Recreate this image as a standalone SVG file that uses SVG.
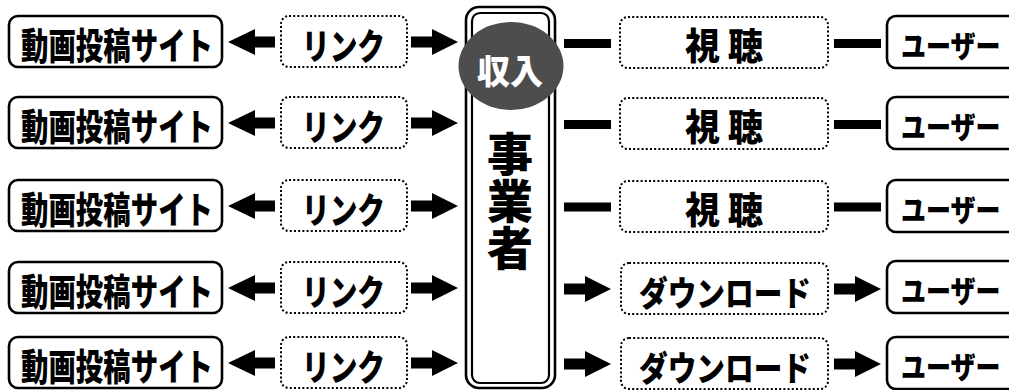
<svg xmlns="http://www.w3.org/2000/svg" xmlns:xlink="http://www.w3.org/1999/xlink" width="1009" height="390" viewBox="0 0 1009 390">
<style>
.solid{fill:#fff;stroke:#000;stroke-width:2.6}
.dot{fill:#fff;stroke:#000;stroke-width:2;stroke-dasharray:2 2.2}
.t{font-family:"Noto Sans CJK JP","Noto Sans CJK SC",sans-serif;font-weight:900;fill:#000;dominant-baseline:central}
.site{font-size:37px}
.link{font-size:36px}
.view{font-size:37px}
.dl{font-size:34px}
.user{font-size:30px}
.conn{fill:#000}
</style>
<defs>
<path id="arrL" d="M0,0 L27,-13 L27,-5.5 L47,-5.5 L47,5.5 L27,5.5 L27,13 Z"/>
<path id="arrR" d="M0,-5.5 L21,-5.5 L21,-13 L47,0 L21,13 L21,5.5 L0,5.5 Z"/>
<rect id="bar" x="0" y="-4.5" width="47" height="9"/>
</defs>
<rect width="1009" height="390" fill="#fff"/>

<g id="connectors" class="conn">
<use xlink:href="#arrL" x="228" y="42"/>
<use xlink:href="#arrL" x="228" y="123"/>
<use xlink:href="#arrL" x="228" y="206"/>
<use xlink:href="#arrL" x="228" y="288"/>
<use xlink:href="#arrL" x="228" y="363"/>
<use xlink:href="#arrR" x="411" y="42"/>
<use xlink:href="#arrR" x="411" y="123"/>
<use xlink:href="#arrR" x="411" y="206"/>
<use xlink:href="#arrR" x="411" y="288"/>
<use xlink:href="#arrR" x="411" y="363"/>
<use xlink:href="#bar" x="564" y="43.5"/>
<use xlink:href="#bar" x="564" y="124.5"/>
<use xlink:href="#bar" x="564" y="207"/>
<use xlink:href="#arrR" x="564" y="289"/>
<use xlink:href="#arrR" x="564" y="364"/>
<use xlink:href="#bar" x="834" y="43.5"/>
<use xlink:href="#bar" x="834" y="124.5"/>
<use xlink:href="#bar" x="834" y="207"/>
<use xlink:href="#arrR" x="834" y="289"/>
<use xlink:href="#arrR" x="834" y="364"/>
</g>

<g id="site1"><rect class="solid" x="9" y="16" width="213" height="51" rx="9"/><text class="t site" x="21" y="44" textLength="192" lengthAdjust="spacingAndGlyphs">動画投稿サイト</text></g>
<g id="site2"><rect class="solid" x="9" y="97" width="213" height="51" rx="9"/><text class="t site" x="21" y="125" textLength="192" lengthAdjust="spacingAndGlyphs">動画投稿サイト</text></g>
<g id="site3"><rect class="solid" x="9" y="180" width="213" height="51" rx="9"/><text class="t site" x="21" y="208" textLength="192" lengthAdjust="spacingAndGlyphs">動画投稿サイト</text></g>
<g id="site4"><rect class="solid" x="9" y="262" width="213" height="51" rx="9"/><text class="t site" x="21" y="290" textLength="192" lengthAdjust="spacingAndGlyphs">動画投稿サイト</text></g>
<g id="site5"><rect class="solid" x="9" y="337" width="213" height="51" rx="9"/><text class="t site" x="21" y="365" textLength="192" lengthAdjust="spacingAndGlyphs">動画投稿サイト</text></g>

<g id="link1"><rect class="dot" x="281" y="16" width="126" height="51" rx="8"/><text class="t link" x="302" y="44" textLength="83" lengthAdjust="spacingAndGlyphs">リンク</text></g>
<g id="link2"><rect class="dot" x="281" y="97" width="126" height="51" rx="8"/><text class="t link" x="302" y="125" textLength="83" lengthAdjust="spacingAndGlyphs">リンク</text></g>
<g id="link3"><rect class="dot" x="281" y="180" width="126" height="51" rx="8"/><text class="t link" x="302" y="208" textLength="83" lengthAdjust="spacingAndGlyphs">リンク</text></g>
<g id="link4"><rect class="dot" x="281" y="262" width="126" height="51" rx="8"/><text class="t link" x="302" y="290" textLength="83" lengthAdjust="spacingAndGlyphs">リンク</text></g>
<g id="link5"><rect class="dot" x="281" y="337" width="126" height="51" rx="8"/><text class="t link" x="302" y="365" textLength="83" lengthAdjust="spacingAndGlyphs">リンク</text></g>

<g id="business">
<rect class="solid" x="466" y="7" width="89" height="381" rx="13"/>
<rect fill="none" stroke="#000" stroke-width="2.2" x="472" y="13" width="77" height="370" rx="8"/>
<text class="t" x="510" y="131" font-size="46" writing-mode="vertical-rl" letter-spacing="1">事業者</text>
</g>
<g id="income">
<ellipse cx="511" cy="66" rx="52.5" ry="44" fill="#4d4d4d"/>
<text class="t" x="477" y="69" font-size="34" textLength="66" lengthAdjust="spacingAndGlyphs" style="fill:#fff">収入</text>
</g>

<g id="view1"><rect class="dot" x="620" y="17" width="208" height="51" rx="8"/><text class="t view" x="685" y="44" textLength="78" lengthAdjust="spacingAndGlyphs">視 聴</text></g>
<g id="view2"><rect class="dot" x="620" y="98" width="208" height="51" rx="8"/><text class="t view" x="685" y="125" textLength="78" lengthAdjust="spacingAndGlyphs">視 聴</text></g>
<g id="view3"><rect class="dot" x="620" y="181" width="208" height="51" rx="8"/><text class="t view" x="685" y="208" textLength="78" lengthAdjust="spacingAndGlyphs">視 聴</text></g>
<g id="dl4"><rect class="dot" x="621" y="263" width="207" height="51" rx="8"/><text class="t dl" x="639" y="291" textLength="172" lengthAdjust="spacingAndGlyphs">ダウンロード</text></g>
<g id="dl5"><rect class="dot" x="621" y="338" width="207" height="51" rx="8"/><text class="t dl" x="639" y="366" textLength="172" lengthAdjust="spacingAndGlyphs">ダウンロード</text></g>

<g id="user1"><rect class="solid" x="887" y="16" width="140" height="52" rx="9"/><text class="t user" transform="translate(901,44) scale(0.833,1)">ユーザー</text></g>
<g id="user2"><rect class="solid" x="887" y="97" width="140" height="52" rx="9"/><text class="t user" transform="translate(901,125) scale(0.833,1)">ユーザー</text></g>
<g id="user3"><rect class="solid" x="887" y="180" width="140" height="52" rx="9"/><text class="t user" transform="translate(901,208) scale(0.833,1)">ユーザー</text></g>
<g id="user4"><rect class="solid" x="887" y="261" width="140" height="52" rx="9"/><text class="t user" transform="translate(901,289) scale(0.833,1)">ユーザー</text></g>
<g id="user5"><rect class="solid" x="887" y="337" width="140" height="52" rx="9"/><text class="t user" transform="translate(901,365) scale(0.833,1)">ユーザー</text></g>
</svg>
